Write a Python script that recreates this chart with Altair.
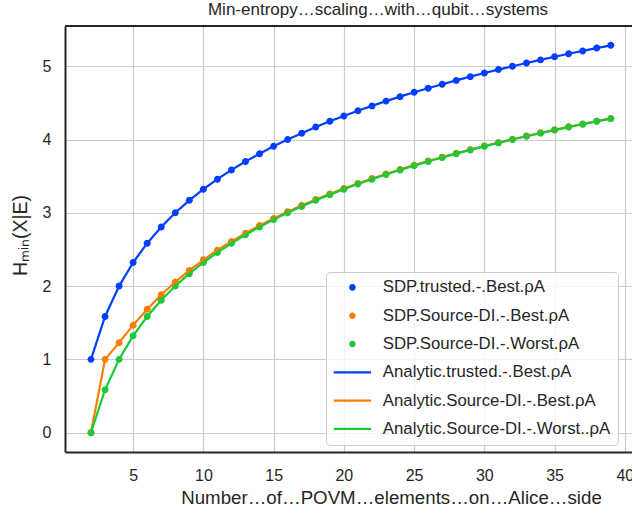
import altair as alt
import pandas as pd

# ---- data ----
n_povm = [2, 3, 4, 5, 6, 7, 8, 9, 10, 11, 12, 13, 14, 15, 16, 17, 18, 19, 20,
          21, 22, 23, 24, 25, 26, 27, 28, 29, 30, 31, 32, 33, 34, 35, 36, 37, 38, 39]
trusted_best = [1.000, 1.585, 2.000, 2.322, 2.585, 2.807, 3.000, 3.170, 3.322, 3.459,
                3.585, 3.700, 3.807, 3.907, 4.000, 4.087, 4.170, 4.248, 4.322, 4.392,
                4.459, 4.524, 4.585, 4.644, 4.700, 4.755, 4.807, 4.858, 4.907, 4.954,
                5.000, 5.044, 5.087, 5.129, 5.170, 5.209, 5.248, 5.285]
sdi_best = [0.000, 1.000, 1.228, 1.467, 1.685, 1.881, 2.056, 2.214, 2.358, 2.489,
            2.610, 2.722, 2.826, 2.923, 3.014, 3.100, 3.181, 3.258, 3.331, 3.400,
            3.467, 3.530, 3.591, 3.650, 3.706, 3.760, 3.812, 3.862, 3.911, 3.958,
            4.004, 4.048, 4.091, 4.132, 4.173, 4.212, 4.250, 4.288]
sdi_worst = [0.000, 0.585, 1.000, 1.322, 1.585, 1.807, 2.000, 2.170, 2.322, 2.459,
             2.585, 2.700, 2.807, 2.907, 3.000, 3.087, 3.170, 3.248, 3.322, 3.392,
             3.459, 3.524, 3.585, 3.644, 3.700, 3.755, 3.807, 3.858, 3.907, 3.954,
             4.000, 4.044, 4.087, 4.129, 4.170, 4.209, 4.248, 4.285]

sdp_names = ["SDP.trusted.-.Best.ρA", "SDP.Source-DI.-.Best.ρA", "SDP.Source-DI.-.Worst.ρA"]
ana_names = ["Analytic.trusted.-.Best.ρA", "Analytic.Source-DI.-.Best.ρA",
             "Analytic.Source-DI.-.Worst..ρA"]
palette = ["#023eff", "#ff7c00", "#1ac938"]
x_ticks = [5, 10, 15, 20, 25, 30, 35, 40]
y_ticks = [0, 1, 2, 3, 4, 5]

series_values = [trusted_best, sdi_best, sdi_worst]

rows_pts, rows_lines = [], []
for i in range(3):
    for n, v in zip(n_povm, series_values[i]):
        rows_pts.append({"n": n, "h": v, "series": sdp_names[i]})
        rows_lines.append({"n": n, "h": v, "series": ana_names[i]})
df_pts = pd.DataFrame(rows_pts)
df_lines = pd.DataFrame(rows_lines)

W, H = 567, 426
FONT = "Liberation Sans"
TXT = "#262626"

dot = "M-1.1,0A1.1,1.1,0,1,1,1.1,0A1.1,1.1,0,1,1,-1.1,0Z"
bar = "M-6.22,-0.38H6.22V0.38H-6.22Z"

all_names = sdp_names + ana_names
color_scale = alt.Scale(domain=all_names, range=palette + palette)
shape_scale = alt.Scale(domain=all_names, range=[dot] * 3 + [bar] * 3)

legend = alt.Legend(
    title=None, orient="none", legendX=261, legendY=246,
    symbolSize=36, symbolStrokeWidth=0, symbolOffset=11, labelOffset=22,
    labelFont=FONT, labelFontSize=16.8, labelColor=TXT, labelLimit=400,
    fillColor="rgba(255,255,255,0.8)", strokeColor="#cccccc", cornerRadius=4,
    padding=7, rowPadding=10.3,
)

xscale = alt.Scale(domain=[0.15, 40.51], nice=False, zero=False)
yscale = alt.Scale(domain=[-0.264, 5.549], nice=False, zero=False)

x_axis = alt.Axis(
    values=x_ticks, ticks=False, grid=True, labelFlush=False, format="d",
    labelFont=FONT, labelFontSize=16, labelColor=TXT, labelPadding=15,
    title="Number…of…POVM…elements…on…Alice…side",
    titleFont=FONT, titleFontSize=18.7, titleFontWeight="normal", titleColor=TXT,
    titleX=326, titleY=51, titleBaseline="alphabetic", titleAlign="center",
    domainColor=TXT, domainWidth=2,
)
y_axis = alt.Axis(
    values=y_ticks, ticks=False, grid=True, format="d",
    labelFont=FONT, labelFontSize=16, labelColor=TXT, labelPadding=14,
    title="Hₘᵢₙ(X|E)",
    titleFont=FONT, titleFontSize=19.5, titleFontWeight="normal", titleColor=TXT,
    titleX=-39, titleY=209, titleAngle=270, titleBaseline="alphabetic", titleAlign="center",
    domainColor=TXT, domainWidth=2,
)

points = alt.Chart(df_pts).mark_point(filled=True, size=40, opacity=1, strokeWidth=0).encode(
    x=alt.X("n:Q", scale=xscale, axis=x_axis),
    y=alt.Y("h:Q", scale=yscale, axis=y_axis),
    color=alt.Color("series:N", scale=color_scale, legend=legend, sort=None),
    shape=alt.Shape("series:N", scale=shape_scale, legend=legend, sort=None),
)

lines = alt.Chart(df_lines).mark_line(strokeWidth=2.2).encode(
    x=alt.X("n:Q", scale=xscale),
    y=alt.Y("h:Q", scale=yscale),
    color=alt.Color("series:N", scale=color_scale, legend=None, sort=None),
)

top_spine = alt.Chart(pd.DataFrame({"k": [0]})).mark_rule(color=TXT, strokeWidth=2).encode(
    x=alt.value(0), x2=alt.value(W), y=alt.value(0)
)

chart = alt.layer(points, lines, top_spine).properties(
    width=W, height=H,
    title=alt.TitleParams(
        "Min-entropy…scaling…with…qubit…systems",
        font=FONT, fontSize=17, fontWeight="normal", color=TXT,
        anchor="middle", frame="group", dx=29.5, dy=17, offset=6, baseline="bottom",
    ),
    padding={"left": 65, "top": 26, "right": 0, "bottom": 61},
    autosize=alt.AutoSizeParams(type="none"),
    background="white",
).configure_view(stroke=None).configure_axis(
    gridColor="#cccccc", gridWidth=1.2
)

chart.save("out.html", embed_options={"renderer": "svg", "actions": False})
